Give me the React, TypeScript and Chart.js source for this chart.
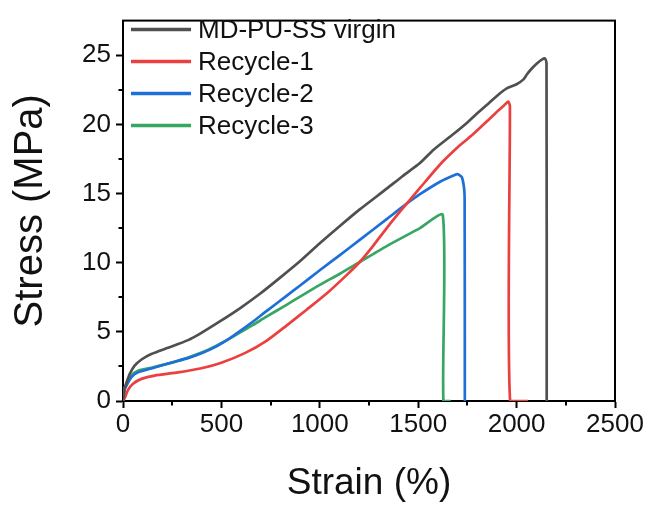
import React, { useEffect, useRef } from "react";
import { Chart, registerables } from "chart.js";

Chart.register(...registerables);

const seriesLabels = ["MD-PU-SS virgin", "Recycle-1", "Recycle-2", "Recycle-3"];
const seriesColors = ["#505050", "#ea4040", "#1f6fd8", "#37a662"];

const virgin: [number, number][] = [
  [0, 0], [8, 0.9], [17, 1.3], [34, 1.95], [59, 2.55], [94, 3.0], [144, 3.4], [229, 3.85],
  [331, 4.4], [390, 4.85], [492, 5.75], [594, 6.7], [696, 7.75], [797, 8.9], [899, 10.1],
  [1000, 11.4], [1102, 12.65], [1203, 13.85], [1340, 15.35], [1420, 16.25], [1509, 17.2],
  [1577, 18.15], [1679, 19.3], [1747, 20.1], [1800, 20.8], [1860, 21.55], [1916, 22.25],
  [1950, 22.6], [2000, 22.9], [2035, 23.25], [2052, 23.6], [2075, 24.0], [2103, 24.4],
  [2130, 24.7], [2145, 24.75], [2152, 24.4], [2153, 0],
];

const recycle1: [number, number][] = [
  [0, 0], [12, 0.32], [25, 0.79], [51, 1.25], [94, 1.6], [161, 1.84], [280, 2.07], [399, 2.37],
  [500, 2.77], [619, 3.46], [729, 4.35], [831, 5.45], [933, 6.6], [1035, 7.77], [1136, 9.1],
  [1203, 10.05], [1270, 11.2], [1340, 12.5], [1420, 13.9], [1509, 15.4], [1611, 17.1],
  [1713, 18.5], [1780, 19.3], [1848, 20.2], [1899, 20.9], [1935, 21.35], [1958, 21.65],
  [1966, 21.3], [1967, 0], [2058, 0],
];

const recycle2: [number, number][] = [
  [0, 0], [8, 0.8], [17, 1.1], [43, 1.72], [76, 2.07], [144, 2.35], [238, 2.75], [330, 3.1],
  [399, 3.45], [475, 3.95], [534, 4.45], [594, 5.05], [661, 5.75], [729, 6.5], [831, 7.6],
  [900, 8.35], [1000, 9.45], [1102, 10.55], [1203, 11.65], [1340, 13.15], [1440, 14.25],
  [1509, 14.95], [1611, 15.85], [1679, 16.3], [1700, 16.4], [1721, 16.2], [1733, 15.4],
  [1736, 14.5], [1737, 0],
];

const recycle3: [number, number][] = [
  [0, 0], [8, 0.95], [17, 1.14], [43, 1.84], [76, 2.19], [144, 2.4], [280, 2.9], [399, 3.5],
  [475, 4.0], [534, 4.45], [594, 4.95], [661, 5.5], [729, 6.1], [831, 6.95], [900, 7.55],
  [1000, 8.4], [1102, 9.2], [1203, 10.05], [1340, 11.2], [1509, 12.5], [1625, 13.45],
  [1628, 0], [1665, 0],
];

const allSeries = [virgin, recycle1, recycle2, recycle3];

const xTitle = "Strain (%)";
const yTitle = "Stress (MPa)";
const xMin = 0, xMax = 2500, xStep = 500, xMinorStep = 250;
const yMin = 0, yMax = 27.5, yStep = 5, yMinorStep = 2.5;

const FONT = "'Liberation Sans', Arial, sans-serif";

const framePlugin = {
  id: "frameAndLegend",
  beforeDatasetsDraw(chart: any) {
    const { ctx, chartArea, scales } = chart;
    const xs = scales.x, ys = scales.y;
    ctx.save();
    ctx.strokeStyle = "#000";
    ctx.lineWidth = 2;
    ctx.beginPath();
    for (let v = xMin + xMinorStep; v < xMax; v += xStep) {
      const px = Math.round(xs.getPixelForValue(v));
      ctx.moveTo(px, chartArea.bottom);
      ctx.lineTo(px, chartArea.bottom + 4.5);
    }
    for (let v = yMin + yMinorStep; v < yMax; v += yStep) {
      const py = Math.round(ys.getPixelForValue(v));
      ctx.moveTo(chartArea.left, py);
      ctx.lineTo(chartArea.left - 4.5, py);
    }
    ctx.stroke();
    ctx.lineWidth = 2;
    ctx.strokeRect(chartArea.left, chartArea.top, chartArea.right - chartArea.left, chartArea.bottom - chartArea.top);
    ctx.restore();
  },
  afterDraw(chart: any) {
    const { ctx } = chart;
    ctx.save();
    const datasets = chart.data.datasets;
    ctx.font = `26px ${FONT}`;
    ctx.textBaseline = "middle";
    ctx.textAlign = "left";
    datasets.forEach((ds: any, i: number) => {
      const y = 29.5 + i * 32;
      ctx.strokeStyle = ds.borderColor;
      ctx.lineWidth = 3.5;
      ctx.beginPath();
      ctx.moveTo(131, y);
      ctx.lineTo(191, y);
      ctx.stroke();
      ctx.fillStyle = "#111";
      ctx.fillText(ds.label, 198, y + 1);
    });
    ctx.restore();
  },
};

export default function App() {
  const ref = useRef<HTMLCanvasElement>(null);
  useEffect(() => {
    const canvas = ref.current!;
    const chart = new Chart(canvas, {
      type: "line",
      data: {
        datasets: allSeries.map((s, i) => ({
          label: seriesLabels[i],
          data: s.map(([x, y]) => ({ x, y })),
          borderColor: seriesColors[i],
          backgroundColor: seriesColors[i],
          borderWidth: 2.7,
          pointRadius: 0,
          tension: 0.2,
          fill: false,
        })),
      },
      options: {
        animation: false,
        responsive: false,
        devicePixelRatio: 1,
        layout: { padding: { top: 6, right: 35, left: 0, bottom: 0 } },
        plugins: { legend: { display: false }, tooltip: { enabled: false } },
        scales: {
          x: {
            type: "linear",
            min: xMin,
            max: xMax,
            afterFit: (s: any) => { s.height = 114; },
            ticks: { stepSize: xStep, color: "#111", font: { size: 26, family: FONT }, padding: 1, maxRotation: 0, callback: (v: any) => String(v) },
            grid: { drawOnChartArea: false, drawTicks: true, tickLength: 7, tickColor: "#000", tickWidth: 2 },
            border: { display: true, color: "#000", width: 2 },
            title: { display: true, text: xTitle, color: "#111", font: { size: 37, family: FONT }, padding: { top: 0, bottom: 9 } },
          },
          y: {
            type: "linear",
            min: yMin,
            max: yMax,
            afterFit: (s: any) => { s.width = 123; },
            ticks: { stepSize: yStep, includeBounds: false, color: "#111", font: { size: 26, family: FONT }, padding: 5, callback: (v: any) => String(v) },
            grid: { drawOnChartArea: false, drawTicks: true, tickLength: 7, tickColor: "#000", tickWidth: 2 },
            border: { display: true, color: "#000", width: 2 },
            title: { display: true, text: yTitle, color: "#111", font: { size: 40, family: FONT }, padding: { top: 7, bottom: 0 } },
          },
        },
      },
      plugins: [framePlugin],
    });
    return () => chart.destroy();
  }, []);
  return (
    <div style={{ position: "absolute", left: 0, top: 0, width: 650, height: 515, background: "#fff" }}>
      <canvas ref={ref} width={650} height={515} style={{ width: 650, height: 515, display: "block" }} />
    </div>
  );
}
